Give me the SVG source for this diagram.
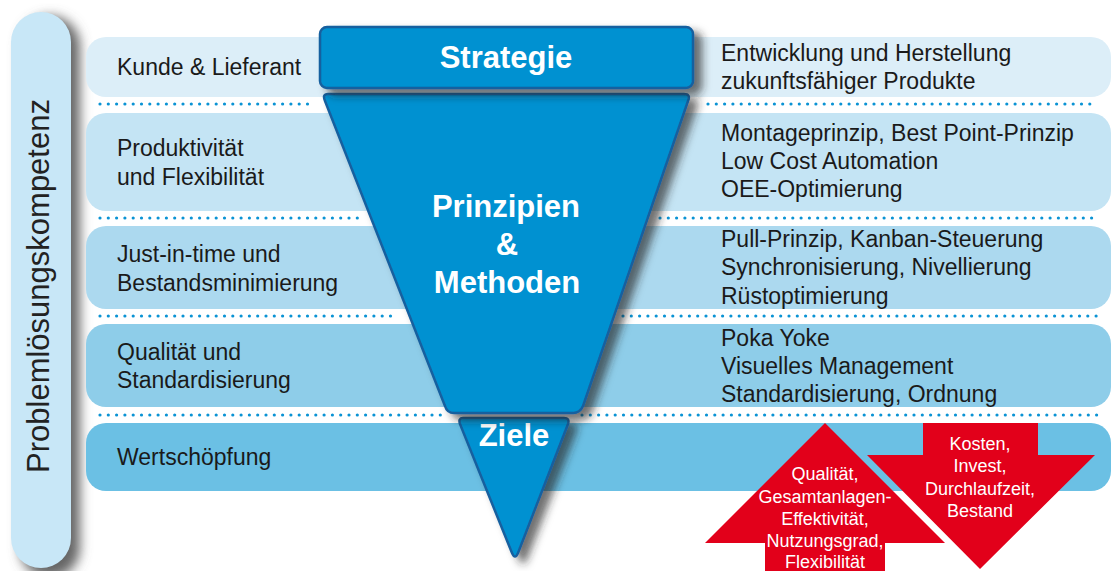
<svg xmlns="http://www.w3.org/2000/svg" width="1111" height="571" viewBox="0 0 1111 571">
<defs>
<style>
.lbl{font-family:"Liberation Sans",Arial,sans-serif;font-size:23px;fill:#1a1a1a}
.big{font-family:"Liberation Sans",Arial,sans-serif;font-size:31px;font-weight:bold;fill:#fff;text-anchor:middle}
.red{font-family:"Liberation Sans",Arial,sans-serif;font-size:18px;fill:#fff;text-anchor:middle}
.dots{fill:none;stroke:#0a93d4;stroke-width:3.2;stroke-linecap:round;stroke-dasharray:0 8.3}
.fun{fill:#0091d1;stroke:#17609f;stroke-width:2.5;stroke-linejoin:round}
.arrow{fill:#e2001a}
</style>
<filter id="sh" x="-20%" y="-20%" width="150%" height="150%">
<feDropShadow dx="8" dy="6" stdDeviation="4.5" flood-color="#222" flood-opacity="0.65"/>
</filter>
<filter id="psh" x="-50%" y="-10%" width="200%" height="130%">
<feGaussianBlur stdDeviation="6"/>
</filter>
</defs>
<rect width="1111" height="571" fill="#fff"/>

<g id="pill">
<rect x="20" y="16" width="60" height="562" rx="30" fill="#666" filter="url(#psh)"/>
<rect x="11" y="12" width="60" height="556" rx="30" fill="#c8e7f7"/>
<text class="lbl" style="font-size:31px;fill:#222" text-anchor="middle" transform="translate(49,286) rotate(-90)">Problemlösungskompetenz</text>
</g>

<g id="bands">
<rect x="86" y="37" width="1025" height="60" rx="20" fill="#dceef8"/>
<rect x="86" y="113" width="1025" height="98" rx="20" fill="#c4e4f4"/>
<rect x="86" y="226" width="1025" height="83" rx="20" fill="#acd9ef"/>
<rect x="86" y="324" width="1025" height="83" rx="20" fill="#8ecde9"/>
<rect x="86" y="423" width="1025" height="68" rx="20" fill="#6bc0e4"/>
</g>

<g id="separators">
<path class="dots" d="M100,104H308M708,104H1098M100,218H358M660,218H1098M100,316H398M623,316H1098M100,415H442M582,415H1098"/>
</g>

<g id="left-labels">
<text class="lbl" x="117" y="75">Kunde &amp; Lieferant</text>
<text class="lbl" x="117" y="156">Produktivität</text>
<text class="lbl" x="117" y="185">und Flexibilität</text>
<text class="lbl" x="117" y="262">Just-in-time und</text>
<text class="lbl" x="117" y="291">Bestandsminimierung</text>
<text class="lbl" x="117" y="360">Qualität und</text>
<text class="lbl" x="117" y="388">Standardisierung</text>
<text class="lbl" x="117" y="465">Wertschöpfung</text>
</g>

<g id="right-labels">
<text class="lbl" x="721" y="61">Entwicklung und Herstellung</text>
<text class="lbl" x="721" y="89">zukunftsfähiger Produkte</text>
<text class="lbl" x="721" y="141">Montageprinzip, Best Point-Prinzip</text>
<text class="lbl" x="721" y="169">Low Cost Automation</text>
<text class="lbl" x="721" y="197">OEE-Optimierung</text>
<text class="lbl" x="721" y="247">Pull-Prinzip, Kanban-Steuerung</text>
<text class="lbl" x="721" y="275">Synchronisierung, Nivellierung</text>
<text class="lbl" x="721" y="304">Rüstoptimierung</text>
<text class="lbl" x="721" y="346">Poka Yoke</text>
<text class="lbl" x="721" y="374">Visuelles Management</text>
<text class="lbl" x="721" y="402">Standardisierung, Ordnung</text>
</g>

<g id="ziele">
<path class="fun" filter="url(#sh)" d="M463,418 L564,418 Q570,418 568,424 L518,553 Q515,560 512,553 L460,424 Q458,418 463,418 Z"/>
<text class="big" x="514" y="446">Ziele</text>
</g>

<g id="prinzipien">
<path class="fun" filter="url(#sh)" d="M328,94 L684,94 Q691,94 688,101 L583,406 Q580,413 573,413 L454,413 Q447,413 445,406 L325,101 Q322,94 328,94 Z"/>
<text class="big" x="506" y="217">Prinzipien</text>
<text class="big" x="507" y="255">&amp;</text>
<text class="big" x="507" y="293">Methoden</text>
</g>

<g id="strategie">
<rect class="fun" filter="url(#sh)" x="320" y="27" width="373" height="61" rx="7"/>
<text class="big" x="506" y="68">Strategie</text>
</g>

<g id="arrow-up">
<polygon class="arrow" points="825,423 945,543 885,543 885,575 765,575 765,543 705,543"/>
<text class="red" x="825" y="480">Qualität,</text>
<text class="red" x="825" y="503">Gesamtanlagen-</text>
<text class="red" x="825" y="525">Effektivität,</text>
<text class="red" x="825" y="547">Nutzungsgrad,</text>
<text class="red" x="825" y="568">Flexibilität</text>
</g>

<g id="arrow-down">
<polygon class="arrow" points="923,423 1038,423 1038,455 1095,455 980,569 867,455 923,455"/>
<text class="red" x="980" y="450">Kosten,</text>
<text class="red" x="980" y="472">Invest,</text>
<text class="red" x="980" y="495">Durchlaufzeit,</text>
<text class="red" x="980" y="517">Bestand</text>
</g>
</svg>
